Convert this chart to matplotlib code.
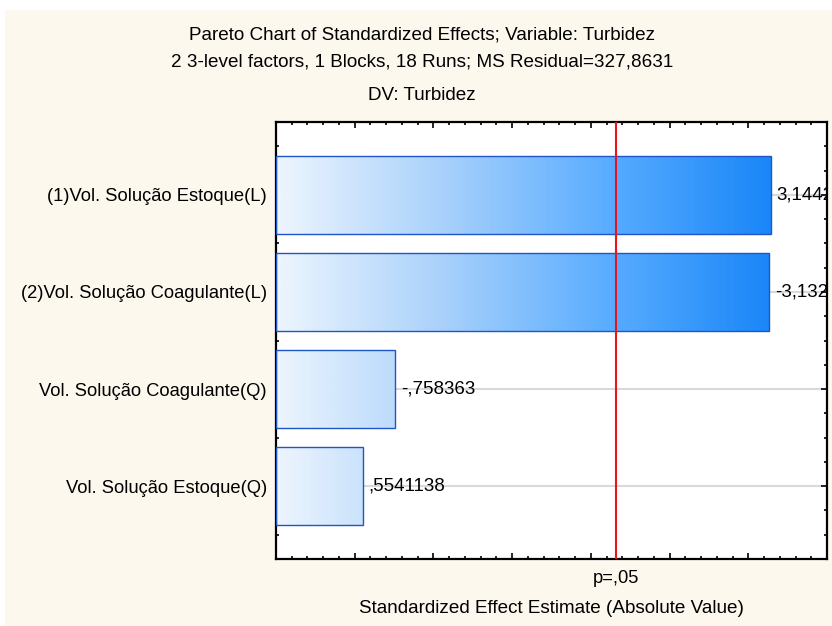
import matplotlib
matplotlib.use("Agg")
import matplotlib.pyplot as plt
import numpy as np
from matplotlib.colors import LinearSegmentedColormap, Normalize
from matplotlib.patches import Rectangle
from matplotlib.ticker import MultipleLocator

plt.rcParams['font.family'] = ['Liberation Sans', 'DejaVu Sans']

# efeitos padronizados (ordem de cima para baixo)
fatores = ['(1)Vol. Solução Estoque(L)',
           '(2)Vol. Solução Coagulante(L)',
           'Vol. Solução Coagulante(Q)',
           'Vol. Solução Estoque(Q)']
efeitos = [3.1442, -3.13253, -0.758363, 0.5541138]
rotulos = ['3,1442', '-3,13253', '-,758363', ',5541138']
t_critico = 2.160  # p=,05

titulo = ['Pareto Chart of Standardized Effects; Variable: Turbidez',
          '2 3-level factors, 1 Blocks, 18 Runs; MS Residual=327,8631',
          'DV: Turbidez']

creme = '#fdf8ee'
fig = plt.figure(figsize=(8.32, 6.26), dpi=100)
fig.patch.set_facecolor('white')
fig.patches.append(Rectangle((5 / 832, 0), 1, 1 - 10 / 626, transform=fig.transFigure,
                             facecolor=creme, edgecolor='none', zorder=-10))

ax = fig.add_axes([276 / 832, 1 - 559 / 626, (827 - 276) / 832, (559 - 122) / 626])
ax.set_facecolor('white')

cmap = LinearSegmentedColormap.from_list('azul', ['#edf5fe', '#a9d1fb', '#5aadff', '#1a86f8'])
norm = Normalize(vmin=0, vmax=3.15)

pos = np.arange(len(fatores))[::-1]
altura = 0.8
for y in pos:
    ax.axhline(y, color='#d9d9d9', lw=1.5, zorder=0)

barras = ax.barh(pos, np.abs(efeitos), height=altura, facecolor='none',
                 edgecolor='#1f55c8', lw=1.0, zorder=3)
for b, v in zip(barras, efeitos):
    w = abs(v)
    grad = np.linspace(0, w, 300)[None, :]
    im = ax.imshow(grad, cmap=cmap, norm=norm, aspect='auto', zorder=2,
                   extent=(0, w, b.get_y(), b.get_y() + b.get_height()))
    im.set_clip_path(b)

# rótulos dos valores (cortados na borda direita do gráfico)
for y, v, txt in zip(pos, efeitos, rotulos):
    ax.text(abs(v) + 0.035, y, txt, ha='left', va='center', fontsize=13.5,
            color='black', zorder=5, clip_on=True)

ax.axvline(t_critico, color='#e8141c', lw=1.5, zorder=4)

ax.set_xlim(0, 3.5)
ax.set_ylim(-0.75, 3.75)
ax.set_yticks(pos)
ax.set_yticklabels(fatores, fontsize=13.2)
ax.yaxis.set_minor_locator(MultipleLocator(0.25))
ax.xaxis.set_major_locator(MultipleLocator(0.5))
ax.xaxis.set_minor_locator(MultipleLocator(0.1))
ax.set_xticklabels([])
ax.tick_params(which='both', direction='in', top=True, right=True, width=1.2)
ax.tick_params(which='major', length=4.5)
ax.tick_params(which='minor', length=2.5)
ax.tick_params(axis='y', which='major', pad=6.5)
for s in ax.spines.values():
    s.set_linewidth(1.6)

ax.text(t_critico, -0.0435, 'p=,05', transform=ax.get_xaxis_transform(),
        ha='center', va='center', fontsize=13.2)
ax.text(0.5, -0.114, 'Standardized Effect Estimate (Absolute Value)',
        transform=ax.transAxes, ha='center', va='center', fontsize=13.6)

for linha, y in zip(titulo, [35, 62, 96]):
    fig.text(0.507, 1 - y / 626, linha, ha='center', va='center', fontsize=13.6)

fig.savefig('out.png', dpi=100, facecolor=fig.get_facecolor())
